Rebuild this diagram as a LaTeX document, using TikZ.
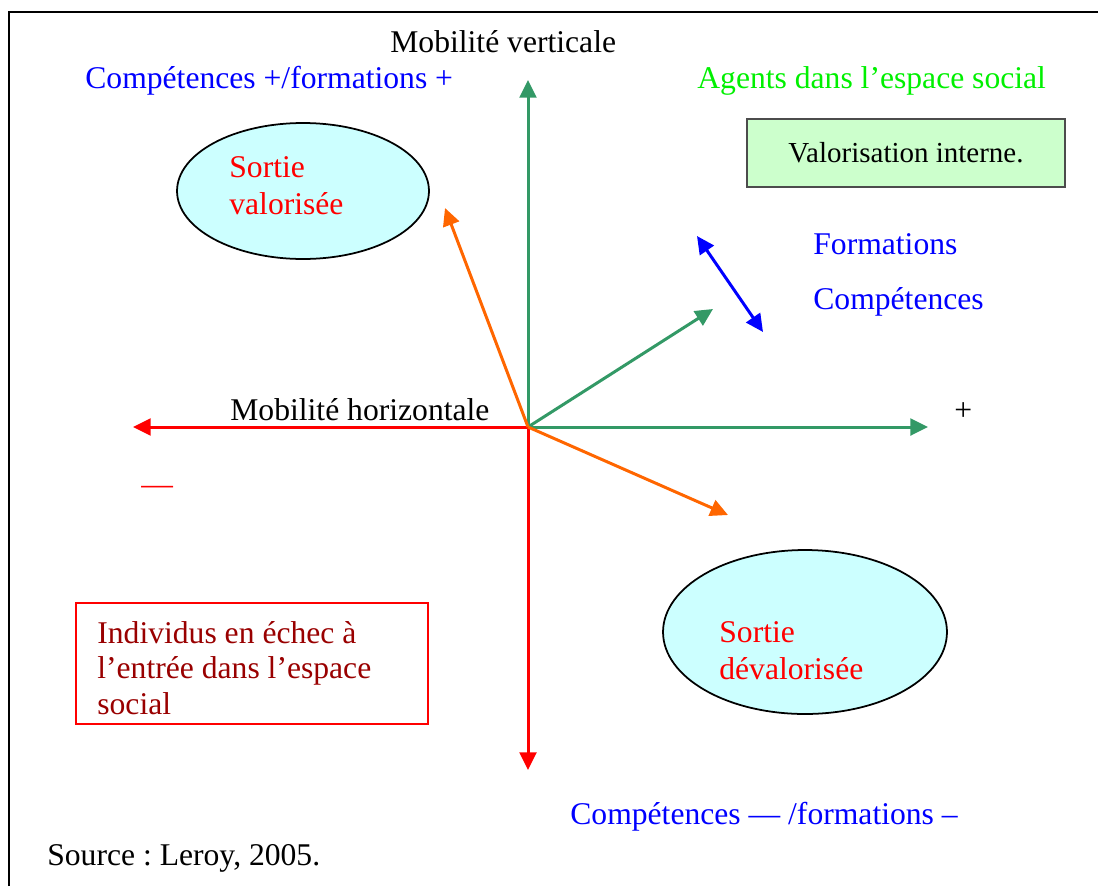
\documentclass[tikz,border=0pt]{standalone}
\usepackage{fontspec}
\setmainfont{Liberation Serif}
\usetikzlibrary{arrows.meta,shapes.geometric}
\frenchspacing

\definecolor{axegreen}{HTML}{339966}
\definecolor{axeorange}{HTML}{FF6600}
\definecolor{lightcyan}{HTML}{CCFFFF}
\definecolor{lightgreen}{HTML}{CCFFCC}
\definecolor{darkred}{HTML}{990000}
\definecolor{brightgreen}{HTML}{00F000}

\begin{document}
\begin{tikzpicture}[x=0.02cm, y=-0.02cm, font=\fontsize{18}{21}\selectfont]
\tikzstyle{every node}=[inner sep=0pt]
\tikzstyle{txt}=[anchor=base west]
\tikzstyle{arr}=[line width=1.7pt, -{Triangle[length=10pt,width=9.5pt]}]
\tikzstyle{zone}=[ellipse, draw, line width=1pt, fill=lightcyan]

\useasboundingbox (0,0) rectangle (1098,886);
\draw[line width=1.2pt] (9,886) -- (9,12) -- (1098,12);

% axes
\coordinate (o) at (528,427);
\coordinate (top) at (528,80);
\coordinate (bottom) at (528,770);
\coordinate (left) at (133,427);
\coordinate (right) at (928,427);
\coordinate (diag) at (713,309);
\coordinate (up) at (445,208);
\coordinate (down) at (728,515);
\coordinate (f1) at (697,236);
\coordinate (f2) at (763,332);

\draw[arr, axegreen] (o) -- (top);
\draw[arr, axegreen] (o) -- (right);
\draw[arr, axegreen] (o) -- (diag);
\draw[arr, red] (o) -- (left);
\draw[arr, red] (o) -- (bottom);
\draw[arr, axeorange] (o) -- (up);
\draw[arr, axeorange] (o) -- (down);
\draw[line width=1.7pt, blue, {Triangle[length=10pt,width=9.5pt]}-{Triangle[length=10pt,width=9.5pt]}] (f1) -- (f2);

% zones
\node[zone, minimum width=5.04cm, minimum height=2.72cm] (haut) at (303,191) {};
\node[zone, minimum width=5.68cm, minimum height=3.28cm] (bas) at (805,632) {};
\node[draw=red, line width=0.9pt, minimum width=7.04cm, minimum height=2.42cm] (echec) at (252,663.5) {};
\node[draw=black!70, line width=1pt, fill=lightgreen, minimum width=6.36cm, minimum height=1.36cm,
      font=\fontsize{16.5}{20}\selectfont] (interne) at (906,153) {Valorisation interne.};

% textes
\node[txt] (mv) at (390,52) {Mobilité verticale};
\node[txt, blue] (cplus) at (85,88) {Compétences +/formations +};
\node[txt, brightgreen] (agents) at (697,88) {Agents dans l’espace social};
\node[txt, red] (s1) at (229,177) {Sortie};
\node[txt, red] (s2) at (229,214) {valorisée};
\node[txt, blue] (form) at (813,254) {Formations};
\node[txt, blue] (comp) at (813,309) {Compétences};
\node[txt] (mh) at (230,420) {Mobilité horizontale};
\node[txt] (plus) at (954,420) {+};
\node[txt, red] (moins) at (141,494) {—};
\node[txt, red] (d1) at (719,642) {Sortie};
\node[txt, red] (d2) at (719,679) {dévalorisée};
\node[txt, darkred] (e1) at (97,643) {Individus en échec à};
\node[txt, darkred] (e2) at (97,678) {l’entrée dans l’espace};
\node[txt, darkred] (e3) at (97,714) {social};
\node[txt, blue] (cmoins) at (570,824) {Compétences — /formations –};
\node[txt] (source) at (47,865) {Source : Leroy, 2005.};
\end{tikzpicture}
\end{document}
